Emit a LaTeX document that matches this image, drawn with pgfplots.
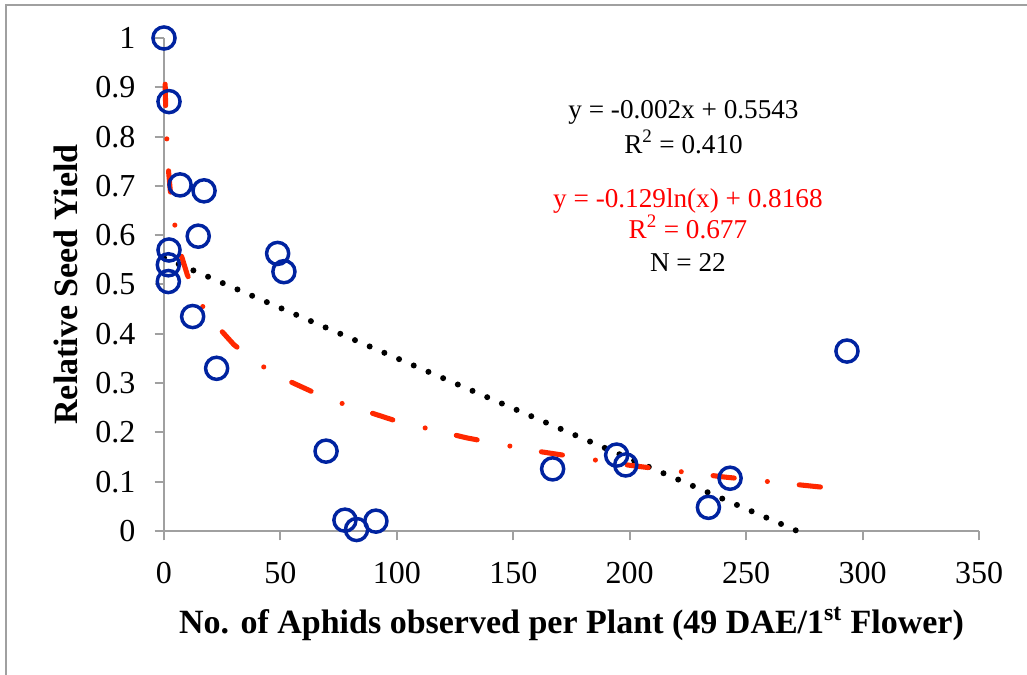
\documentclass[border=0pt]{standalone}
\usepackage{fontspec}
\setmainfont{Liberation Serif}
\usepackage{pgfplots}
\pgfplotsset{compat=1.18}
\definecolor{ptblue}{RGB}{0,35,160}
\definecolor{trendred}{RGB}{255,40,0}
\definecolor{txtred}{RGB}{255,0,0}
\definecolor{axgray}{RGB}{160,160,160}
\pgfplotstableread{
x y
0 1.0
2.15 0.871
6.9 0.702
17.2 0.690
14.7 0.598
2.15 0.570
1.86 0.540
1.86 0.506
12.3 0.435
22.6 0.330
48.8 0.563
51.5 0.526
69.6 0.162
77.7 0.022
82.7 0.003
91.0 0.020
166.9 0.126
194.4 0.154
198.3 0.134
233.8 0.048
243.1 0.107
293.3 0.365
}\datatable
\begin{document}
\begin{tikzpicture}
\begin{axis}[
  scale only axis, width=611.25pt, height=369.75pt,
  xmin=0, xmax=350, ymin=0, ymax=1,
  clip=false,
  axis lines*=left,
  axis line style={draw=axgray, line width=1.5pt},
  xtick={0,50,100,150,200,250,300,350},
  ytick={0,0.1,0.2,0.3,0.4,0.5,0.6,0.7,0.8,0.9,1},
  tick align=outside, major tick length=7pt,
  tick style={draw=axgray, line width=1.5pt},
  /pgf/number format/assume math mode=true,
  /pgf/number format/fixed,
  ticklabel style={font=\fontsize{24}{28}\selectfont},
  yticklabel style={xshift=-11pt},
  xticklabel style={yshift=-13pt},
  xlabel={No. of Aphids observed per Plant (49 DAE/1\textsuperscript{st} Flower)},
  ylabel={Relative Seed Yield},
  label style={font=\fontsize{25.5}{30}\selectfont\bfseries},
  xlabel style={at={(axis description cs:0.5,0)}, anchor=base, yshift=-76.5pt},
  ylabel style={at={(axis description cs:0,0.5)}, anchor=base, yshift=64.5pt},
]
\addplot[only marks, mark=o, mark size=8.3pt, mark options={draw=ptblue, line width=2.6pt}] table[x=x,y=y] {\datatable};
\addplot[black, line width=4.5pt, line cap=round, dash pattern=on 0pt off 12pt] coordinates {(0,0.5543) (272,0)};
\addplot[trendred, line width=3.8pt, line cap=round, dash pattern=on 16pt off 25pt on 0pt off 24pt] coordinates {
(0.5,0.9062) (0.7,0.8628) (1,0.8168) (1.5,0.7645) (2,0.7274) (3,0.6751) (5,0.6092) (7,0.5658) (10,0.5198) (15,0.4675) (20,0.4303) (30,0.3780) (40,0.3409) (50,0.3121) (70,0.2687) (100,0.2227) (130,0.1889) (160,0.1621) (200,0.1333) (240,0.1098) (287,0.0867)};
\node[font=\fontsize{20.4}{24}\selectfont, anchor=base] at (axis cs:223.1,0.8357) {y = -0.002x + 0.5543};
\node[font=\fontsize{20.4}{24}\selectfont, anchor=base] at (axis cs:223.1,0.7667) {R\textsuperscript{2} = 0.410};
\node[font=\fontsize{20.4}{24}\selectfont, anchor=base, text=txtred] at (axis cs:225.0,0.6552) {y = -0.129ln(x) + 0.8168};
\node[font=\fontsize{20.4}{24}\selectfont, anchor=base, text=txtred] at (axis cs:225.0,0.5943) {R\textsuperscript{2} = 0.677};
\node[font=\fontsize{20.4}{24}\selectfont, anchor=base] at (axis cs:225.0,0.5254) {N = 22};
\end{axis}
\draw[axgray, line width=1.5pt] (-118.5pt,-110pt) -- (-118.5pt,394.5pt) -- (650pt,394.5pt);
\pgfresetboundingbox
\useasboundingbox (-123pt,-107.25pt) rectangle (647.25pt,398.25pt);
\end{tikzpicture}
\end{document}
